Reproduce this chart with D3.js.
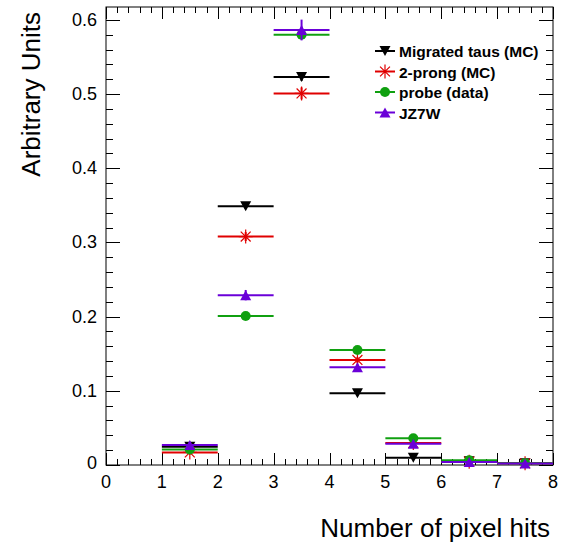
<!DOCTYPE html>
<html><head><meta charset="utf-8">
<script src="https://cdn.jsdelivr.net/npm/d3@7"></script>
<style>body{margin:0;background:#fff}svg{display:block}text{font-family:"Liberation Sans",Arial,Helvetica,sans-serif}</style>
</head><body><svg id="c" width="563" height="549"></svg>
<script>
const binEdges = [0,1,2,3,4,5,6,7,8];
const seriesNames = ["Migrated taus (MC)","2-prong (MC)","probe (data)","JZ7W"];
const seriesColors = ["#000000","#e00000","#10a010","#6a00d8"];
const seriesMarkers = ["triangleDown","star","circle","triangleUp"];
const migratedTaus = [0, 0.0247, 0.349, 0.523, 0.0967, 0.0099, 0.005, 0.0022];
const twoProng     = [0, 0.0170, 0.308, 0.501, 0.1416, 0.0297, 0.0045, 0.0023];
const probeData    = [0, 0.0210, 0.201, 0.580, 0.1550, 0.0360, 0.0063, 0.0025];
const jz7w         = [0, 0.0270, 0.229, 0.5865, 0.1317, 0.0287, 0.0040, 0.0020];
const errMigrated  = [0, 0.002, 0.004, 0.005, 0.003, 0.001, 0.001, 0.0005];
const errTwoProng  = [0, 0.003, 0.006, 0.008, 0.004, 0.002, 0.001, 0.0005];
const errProbe     = [0, 0.001, 0.002, 0.003, 0.002, 0.001, 0.0005, 0.0003];
const errJz7w      = [0, 0.004, 0.007, 0.014, 0.005, 0.003, 0.001, 0.0005];
const xTicks = [0,1,2,3,4,5,6,7,8];
const yTicks = [0,0.1,0.2,0.3,0.4,0.5,0.6];

const series = [migratedTaus, twoProng, probeData, jz7w];
const errs = [errMigrated, errTwoProng, errProbe, errJz7w];

const L=106, R=553, T=7, B=465;
const x = d3.scaleLinear().domain([0,8]).range([L,R]);
const y = d3.scaleLinear().domain([0,0.6175]).range([B,T]);
const svg = d3.select("#c");
svg.append("rect").attr("width",563).attr("height",549).attr("fill","#fff");

// frame
svg.append("rect").attr("x",L).attr("y",T).attr("width",R-L).attr("height",B-T)
  .attr("fill","none").attr("stroke","#000").attr("stroke-width",1);

// ticks
const g = svg.append("g").attr("stroke","#000").attr("stroke-width",1);
const xMinor = d3.range(0,8.0001,0.2);
xMinor.forEach(v=>{
  const major = Math.abs(v-Math.round(v))<1e-6;
  const len = major?12:6;
  const px = Math.round(x(v))+0.5;
  g.append("line").attr("x1",px).attr("x2",px).attr("y1",B).attr("y2",B-len);
  g.append("line").attr("x1",px).attr("x2",px).attr("y1",T).attr("y2",T+len);
});
const yMinor = d3.range(0,0.6175,0.02);
yMinor.forEach((v,i)=>{
  const major = i%5===0;
  const len = major?14:7;
  const py = Math.round(y(v))+0.5;
  g.append("line").attr("x1",L).attr("x2",L+len).attr("y1",py).attr("y2",py);
  g.append("line").attr("x1",R).attr("x2",R-len).attr("y1",py).attr("y2",py);
});

// tick labels
svg.append("g").selectAll("text").data(xTicks).join("text")
  .attr("x",d=>x(d)).attr("y",B+23).attr("text-anchor","middle")
  .attr("font-size",18).text(d=>d);
svg.append("g").selectAll("text").data(yTicks).join("text")
  .attr("x",d=>d===0?97:97).attr("y",d=>y(d)+(d===0?4:6)).attr("text-anchor","end")
  .attr("font-size",18).text(d=>d===0?"0":d3.format(".1f")(d));

// axis titles
svg.append("text").attr("x",R-3).attr("y",537).attr("text-anchor","end")
  .attr("font-size",26).text("Number of pixel hits");
svg.append("text").attr("transform",`translate(40,${T+5}) rotate(-90)`).attr("text-anchor","end")
  .attr("font-size",26).text("Arbitrary Units");

// markers
function marker(sel, type, color, cx, cy, s){
  if(type==="triangleDown"){
    sel.append("path").attr("d",`M${cx-5.5},${cy-5}L${cx+5.5},${cy-5}L${cx},${cy+5}Z`).attr("fill",color);
  } else if(type==="triangleUp"){
    sel.append("path").attr("d",`M${cx-5.5},${cy+5}L${cx+5.5},${cy+5}L${cx},${cy-5}Z`).attr("fill",color);
  } else if(type==="circle"){
    sel.append("circle").attr("cx",cx).attr("cy",cy).attr("r",5).attr("fill",color);
  } else {
    const r=7;
    const p=[];
    for(let k=0;k<4;k++){const a=k*Math.PI/4;p.push(`M${cx-r*Math.cos(a)},${cy-r*Math.sin(a)}L${cx+r*Math.cos(a)},${cy+r*Math.sin(a)}`);}
    sel.append("path").attr("d",p.join("")).attr("stroke",color).attr("stroke-width",1.2).attr("fill","none");
  }
}

const plot = svg.append("g");
series.forEach((vals,si)=>{
  const col = seriesColors[si];
  const gs = plot.append("g");
  vals.forEach((v,i)=>{
    if(v<=0) return;
    const x0=x(binEdges[i]), x1=x(binEdges[i+1]), cx=(x0+x1)/2, cy=y(v);
    gs.append("line").attr("x1",x0).attr("x2",x1).attr("y1",cy).attr("y2",cy)
      .attr("stroke",col).attr("stroke-width",2);
    const e=errs[si][i];
    gs.append("line").attr("x1",cx).attr("x2",cx).attr("y1",y(v+e)).attr("y2",y(Math.max(0,v-e)))
      .attr("stroke",col).attr("stroke-width",2);
    marker(gs, seriesMarkers[si], col, cx, cy);
  });
});

// legend
const lg = svg.append("g");
seriesNames.forEach((n,i)=>{
  const ly = 51 + i*20.5;
  lg.append("line").attr("x1",375).attr("x2",395).attr("y1",ly).attr("y2",ly)
    .attr("stroke",seriesColors[i]).attr("stroke-width",2);
  marker(lg, seriesMarkers[i], seriesColors[i], 385, ly);
  lg.append("text").attr("x",399).attr("y",ly+6).attr("font-size",15.5).attr("font-weight","bold").text(n);
});
</script></body></html>
